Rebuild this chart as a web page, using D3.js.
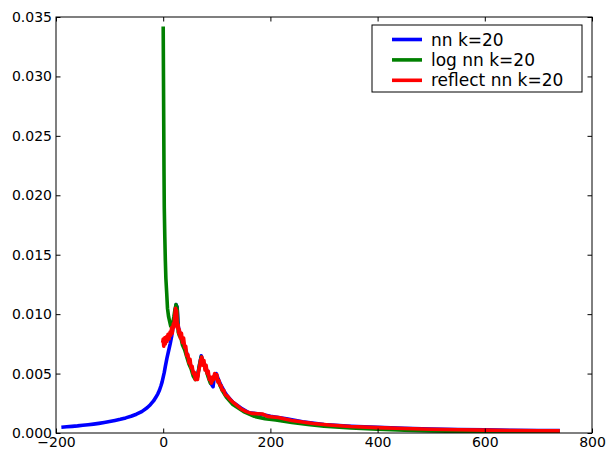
<!DOCTYPE html>
<html>
<head>
<meta charset="utf-8">
<script src="https://cdn.jsdelivr.net/npm/d3@7"></script>
<style>
  body { margin: 0; background: #fff; overflow: hidden; }
  svg { display: block; font-family: "DejaVu Sans", sans-serif; }
</style>
</head>
<body>
<div id="chart"></div>
<script>
// values
var seriesNames = ['nn k=20', 'log nn k=20', 'reflect nn k=20'];
var seriesColors = ['#0000ff', '#008000', '#ff0000'];

var nnX = [-190, -180, -170, -160, -150, -140, -130, -120, -110, -100, -90, -80, -70, -60, -50, -40, -30, -24, -18, -14, -10, -7, -4, -2, 0,
	2, 4, 7, 10, 13, 16, 19, 22, 24, 26,
	28, 30, 33, 36, 40, 44, 48, 52, 56, 60, 64, 68, 71, 74, 78, 82, 86, 90, 93, 96, 99, 103, 108, 114, 120, 130,
	145, 160, 180, 200, 230, 260, 300, 350, 400, 450, 500, 550, 600, 650, 700, 740];
var nnY = [0.00048, 0.00052, 0.00056, 0.00060, 0.00065, 0.00070, 0.00075, 0.00081, 0.00088, 0.00096, 0.00105, 0.00115, 0.00127, 0.00141, 0.00158, 0.00180, 0.00212, 0.00238, 0.00270, 0.00298, 0.0033, 0.0036, 0.0040, 0.0043, 0.0047,
	0.0051, 0.0056, 0.0063, 0.0069, 0.0075, 0.0082, 0.0091, 0.0101, 0.0108, 0.0106,
	0.0090, 0.0086, 0.0082, 0.0078, 0.0072, 0.0067, 0.0061, 0.0056, 0.0051, 0.0047, 0.0048, 0.0058, 0.0065, 0.0060, 0.0057, 0.0052, 0.0046, 0.0041, 0.0039, 0.0049, 0.0050, 0.0045, 0.0040, 0.0035, 0.0031, 0.0026,
	0.0021, 0.0017, 0.0016, 0.0014, 0.0012, 0.00094, 0.00072, 0.00057, 0.00047, 0.00040, 0.00034, 0.00029, 0.00026, 0.00023, 0.00021, 0.00020];

var logX = [0, 0.5, 1, 1.5, 2, 3, 4, 5, 6.5, 8, 10, 12, 14, 16, 18, 20, 22, 24, 26, 28, 30, 33, 36, 40, 44, 48, 52, 56, 60, 64,
	68, 71, 74, 77, 80, 84, 88, 92, 96, 100, 104, 110, 118, 130, 150, 170, 190, 210, 240, 270, 300, 350, 400, 450, 500,
	550, 600, 650, 700, 740];
var logY = [0.0342, 0.0300, 0.0260, 0.0220, 0.0190, 0.0165, 0.0145, 0.0130, 0.0118, 0.0105, 0.0098, 0.0094, 0.0090, 0.0089, 0.0093, 0.0098, 0.0104, 0.0108, 0.0105, 0.0085, 0.0082, 0.0080, 0.0074, 0.0070, 0.0064, 0.0058, 0.0054, 0.0048, 0.0045, 0.0047,
	0.0058, 0.0064, 0.0060, 0.0057, 0.0053, 0.0047, 0.0042, 0.0044, 0.0048, 0.0047, 0.0042, 0.0036, 0.0030, 0.0024, 0.0018, 0.0014, 0.0012, 0.0011, 0.00088, 0.00071, 0.00057, 0.00042, 0.00032, 0.00024, 0.00018,
	0.00013, 0.00010, 0.00008, 0.00006, 0.00005];

var reflectX = [-1, 0, 1, 2, 3, 4, 5, 6, 7, 8, 9, 10, 11, 12, 13, 14, 15, 16, 17, 18, 19, 20, 21, 22, 23, 24, 25, 26, 27, 28, 29, 30,
	32, 34, 36, 38, 40, 42, 44, 46, 48, 50, 52, 54, 56, 58, 60, 62, 64, 66, 68, 70, 71, 72, 74, 76, 78, 80, 82, 84, 86, 88, 90,
	92, 94, 96, 98, 100, 102, 104, 106, 108, 110, 113, 116, 120, 125, 130, 138, 146, 155, 165, 175, 185, 195, 205, 215, 225, 240, 260,
	280, 310, 350, 400, 450, 500, 550, 600, 650, 700, 740];
var reflectY = [0.0076, 0.0079, 0.0073, 0.0078, 0.0080, 0.0075, 0.0079, 0.0081, 0.0077, 0.0080, 0.0083, 0.0081, 0.0079, 0.0083, 0.0085, 0.0082, 0.0086, 0.0089, 0.0084, 0.0088, 0.0092, 0.0089, 0.0095, 0.0100, 0.0105, 0.0097, 0.0103, 0.0093, 0.0088, 0.0091, 0.0084, 0.0087,
	0.0080, 0.0084, 0.0076, 0.0080, 0.0072, 0.0073, 0.0065, 0.0066, 0.0059, 0.0062, 0.0055, 0.0056, 0.0050, 0.0051, 0.0045, 0.0049, 0.0045, 0.0052, 0.0056, 0.0062, 0.0058, 0.0064, 0.0057, 0.0061, 0.0053, 0.0057, 0.0050, 0.0052, 0.0045, 0.0047, 0.0042,
	0.0047, 0.0045, 0.0050, 0.0046, 0.0049, 0.0043, 0.0044, 0.0040, 0.0040, 0.0036, 0.0036, 0.0032, 0.0031, 0.0028, 0.0026, 0.0023, 0.0020, 0.0018, 0.00165, 0.00162, 0.0016, 0.0014, 0.00135, 0.0013, 0.0012, 0.00105, 0.00092,
	0.0008, 0.00068, 0.00055, 0.00045, 0.00038, 0.00032, 0.00027, 0.00024, 0.00021, 0.00019, 0.00018];

var xTicks = [-200, 0, 200, 400, 600, 800];
var yTicks = [0, 0.005, 0.010, 0.015, 0.020, 0.025, 0.030, 0.035];

var width = 606;
var height = 452;
var padLeft = 56, padRight = 592, padTop = 17, padBottom = 433;
var tickLen = 4.5;

var svg = d3.select('#chart')
	.append('svg')
	.attr('width', width)
	.attr('height', height);

var xScale = d3.scaleLinear()
	.domain([-200, 800])
	.range([padLeft, padRight]);

var yScale = d3.scaleLinear()
	.domain([0, 0.035])
	.range([padBottom, padTop]);

// lines, clipped to the axes box
svg.append('clipPath')
	.attr('id', 'plot-clip')
	.append('rect')
	.attr('x', padLeft)
	.attr('y', padTop)
	.attr('width', padRight - padLeft)
	.attr('height', padBottom - padTop);

var line = d3.line()
	.x(function(d) { return xScale(d[0]); })
	.y(function(d) { return yScale(d[1]); });

var series = [
	d3.zip(nnX, nnY),
	d3.zip(logX, logY),
	d3.zip(reflectX, reflectY)
];

var plot = svg.append('g').attr('clip-path', 'url(#plot-clip)');
series.forEach(function(s, i) {
	plot.append('path')
		.datum(s)
		.attr('d', line)
		.attr('fill', 'none')
		.attr('stroke', seriesColors[i])
		.attr('stroke-width', 3.6)
		.attr('stroke-linejoin', 'round');
});

// matplotlib style axes: ticks pointing inward on all four sides
var fmtY = d3.format('.3f');
var fmtX = function(d) { return d < 0 ? '\u2212' + Math.abs(d) : String(d); };

svg.append('g')
	.attr('transform', 'translate(0,' + padBottom + ')')
	.call(d3.axisBottom(xScale).tickValues(xTicks).tickFormat(fmtX).tickSizeInner(-tickLen).tickSizeOuter(0).tickPadding(4));

svg.append('g')
	.attr('transform', 'translate(0,' + padTop + ')')
	.call(d3.axisTop(xScale).tickValues(xTicks).tickFormat('').tickSizeInner(-tickLen).tickSizeOuter(0));

svg.append('g')
	.attr('transform', 'translate(' + padLeft + ',0)')
	.call(d3.axisLeft(yScale).tickValues(yTicks).tickFormat(fmtY).tickSizeInner(-tickLen).tickSizeOuter(0).tickPadding(4));

svg.append('g')
	.attr('transform', 'translate(' + padRight + ',0)')
	.call(d3.axisRight(yScale).tickValues(yTicks).tickFormat('').tickSizeInner(-tickLen).tickSizeOuter(0));

svg.selectAll('.tick text')
	.attr('font-family', '"DejaVu Sans", sans-serif')
	.attr('font-size', 14)
	.attr('fill', '#000');
svg.selectAll('.tick line').attr('stroke', '#000');
svg.selectAll('.domain').remove();

svg.append('rect')
	.attr('x', padLeft)
	.attr('y', padTop)
	.attr('width', padRight - padLeft)
	.attr('height', padBottom - padTop)
	.attr('fill', 'none')
	.attr('stroke', '#000')
	.attr('stroke-width', 1);

// legend
var legend = svg.append('g').attr('transform', 'translate(372,25)');
legend.append('rect')
	.attr('width', 210)
	.attr('height', 67)
	.attr('fill', '#fff')
	.attr('stroke', '#000')
	.attr('stroke-width', 1);

seriesNames.forEach(function(name, i) {
	var y = 14.5 + i * 20.4;
	legend.append('line')
		.attr('x1', 20).attr('x2', 50)
		.attr('y1', y).attr('y2', y)
		.attr('stroke', seriesColors[i])
		.attr('stroke-width', 3.6);
	legend.append('text')
		.attr('x', 59)
		.attr('y', y + 6)
		.attr('font-size', 17)
		.attr('fill', '#000')
		.text(name);
});
</script>
</body>
</html>
